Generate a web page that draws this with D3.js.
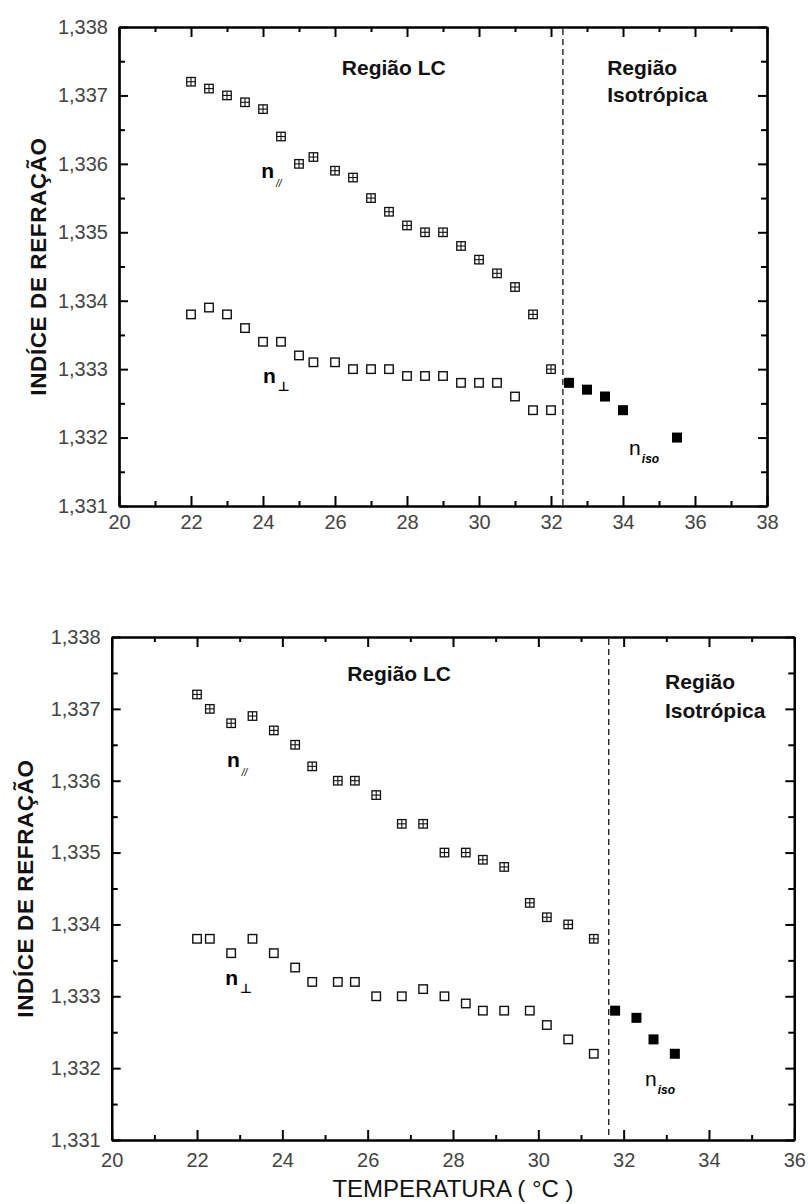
<!DOCTYPE html>
<html>
<head>
<meta charset="utf-8">
<script src="https://cdn.jsdelivr.net/npm/d3@7"></script>
<style>
  html, body { margin: 0; padding: 0; background: #fff; }
  svg { display: block; }
  text { font-family: "Liberation Sans", Arial, sans-serif; }
</style>
</head>
<body>
<svg id="chart" width="808" height="1204"></svg>
<script>
// ---------- DATA ----------
// Top panel
const topParT  = [22,22.5,23,23.5,24,24.5,25,25.4,26,26.5,27,27.5,28,28.5,29,29.5,30,30.5,31,31.5,32];
const topParN  = [1.3372,1.3371,1.3370,1.3369,1.3368,1.3364,1.3360,1.3361,1.3359,1.3358,1.3355,1.3353,1.3351,1.3350,1.3350,1.3348,1.3346,1.3344,1.3342,1.3338,1.3330];
const topPerpT = [22,22.5,23,23.5,24,24.5,25,25.4,26,26.5,27,27.5,28,28.5,29,29.5,30,30.5,31,31.5,32];
const topPerpN = [1.3338,1.3339,1.3338,1.3336,1.3334,1.3334,1.3332,1.3331,1.3331,1.3330,1.3330,1.3330,1.3329,1.3329,1.3329,1.3328,1.3328,1.3328,1.3326,1.3324,1.3324];
const topIsoT  = [32.5,33,33.5,34,35.5];
const topIsoN  = [1.3328,1.3327,1.3326,1.3324,1.3320];
const topTransition = 32.33;

// Bottom panel
const botParT  = [22,22.3,22.8,23.3,23.8,24.3,24.7,25.3,25.7,26.2,26.8,27.3,27.8,28.3,28.7,29.2,29.8,30.2,30.7,31.3];
const botParN  = [1.3372,1.3370,1.3368,1.3369,1.3367,1.3365,1.3362,1.3360,1.3360,1.3358,1.3354,1.3354,1.3350,1.3350,1.3349,1.3348,1.3343,1.3341,1.3340,1.3338];
const botPerpT = [22,22.3,22.8,23.3,23.8,24.3,24.7,25.3,25.7,26.2,26.8,27.3,27.8,28.3,28.7,29.2,29.8,30.2,30.7,31.3];
const botPerpN = [1.3338,1.3338,1.3336,1.3338,1.3336,1.3334,1.3332,1.3332,1.3332,1.3330,1.3330,1.3331,1.3330,1.3329,1.3328,1.3328,1.3328,1.3326,1.3324,1.3322];
const botIsoT  = [31.8,32.3,32.7,33.2];
const botIsoN  = [1.3328,1.3327,1.3324,1.3322];
const botTransition = 31.65;

// Axis ticks
const yTicks = [1.331,1.332,1.333,1.334,1.335,1.336,1.337,1.338];
const topXTicks = [20,22,24,26,28,30,32,34,36,38];
const botXTicks = [20,22,24,26,28,30,32,34,36];

const yTitle = "INDÍCE DE REFRAÇÃO";
const xTitle = "TEMPERATURA ( °C )";
const lcLabel = "Região LC";
const isoLabel1 = "Região";
const isoLabel2 = "Isotrópica";

// ---------- DRAW ----------
const svg = d3.select("#chart");
const loc = d3.formatLocale({decimal: ",", thousands: ".", grouping: [3], currency: ["", ""]});
const fmtY = loc.format(".3f");

function zip(a, b) { return a.map((v, i) => ({x: v, y: b[i]})); }

function panel(cfg) {
  const x = d3.scaleLinear().domain(cfg.xDomain).range([cfg.left, cfg.right]);
  const y = d3.scaleLinear().domain([1.331, 1.338]).range([cfg.bottom, cfg.top]);
  const g = svg.append("g");

  const minorX = d3.range(cfg.xDomain[0], cfg.xDomain[1] + 0.001, 1).filter(v => v % 2 !== 0);
  const minorY = d3.range(1.3315, 1.338, 0.001);

  function styleAxis(sel) {
    sel.select(".domain").attr("stroke", "#000").attr("stroke-width", 2.2);
    sel.selectAll(".tick line").attr("stroke", "#000").attr("stroke-width", 2);
    sel.selectAll(".tick text").attr("fill", "#444").style("font-size", "20px")
      .style("font-family", "'Liberation Sans', Arial, sans-serif");
  }

  // bottom x
  g.append("g").attr("transform", `translate(0,${cfg.bottom})`)
    .call(d3.axisBottom(x).tickValues(cfg.xTicks).tickSizeInner(-10).tickSizeOuter(0).tickPadding(cfg.xPad).tickFormat(d3.format("d")))
    .call(styleAxis);
  g.append("g").attr("transform", `translate(0,${cfg.bottom})`)
    .call(d3.axisBottom(x).tickValues(minorX).tickSizeInner(-5).tickSizeOuter(0).tickFormat(""))
    .call(styleAxis);
  // top x
  g.append("g").attr("transform", `translate(0,${cfg.top})`)
    .call(d3.axisTop(x).tickValues(cfg.xTicks).tickSizeInner(-10).tickSizeOuter(0).tickFormat(""))
    .call(styleAxis);
  g.append("g").attr("transform", `translate(0,${cfg.top})`)
    .call(d3.axisTop(x).tickValues(minorX).tickSizeInner(-5).tickSizeOuter(0).tickFormat(""))
    .call(styleAxis);
  // left y
  g.append("g").attr("transform", `translate(${cfg.left},0)`)
    .call(d3.axisLeft(y).tickValues(yTicks).tickSizeInner(-9).tickSizeOuter(0).tickPadding(11).tickFormat(fmtY))
    .call(styleAxis);
  g.append("g").attr("transform", `translate(${cfg.left},0)`)
    .call(d3.axisLeft(y).tickValues(minorY).tickSizeInner(-6).tickSizeOuter(0).tickFormat(""))
    .call(styleAxis);
  // right y
  g.append("g").attr("transform", `translate(${cfg.right},0)`)
    .call(d3.axisRight(y).tickValues(yTicks).tickSizeInner(-9).tickSizeOuter(0).tickFormat(""))
    .call(styleAxis);
  g.append("g").attr("transform", `translate(${cfg.right},0)`)
    .call(d3.axisRight(y).tickValues(minorY).tickSizeInner(-6).tickSizeOuter(0).tickFormat(""))
    .call(styleAxis);

  // transition line
  g.append("line")
    .attr("x1", x(cfg.transition)).attr("x2", x(cfg.transition))
    .attr("y1", y(1.338) + 2).attr("y2", y(1.331) - 1)
    .attr("stroke", "#222").attr("stroke-width", 1.4).attr("stroke-dasharray", "6,4");

  // n// crossed squares
  const s = 8.5;
  const par = g.append("g").selectAll("g").data(zip(cfg.parT, cfg.parN)).join("g")
    .attr("transform", d => `translate(${x(d.x)},${y(d.y)})`);
  par.append("rect").attr("x", -s/2).attr("y", -s/2).attr("width", s).attr("height", s)
    .attr("fill", "#fff").attr("stroke", "#111").attr("stroke-width", 1.3);
  par.append("line").attr("x1", 0).attr("x2", 0).attr("y1", -s/2).attr("y2", s/2).attr("stroke", "#111").attr("stroke-width", 1.1);
  par.append("line").attr("x1", -s/2).attr("x2", s/2).attr("y1", 0).attr("y2", 0).attr("stroke", "#111").attr("stroke-width", 1.1);

  // n⊥ open squares
  g.append("g").selectAll("rect").data(zip(cfg.perpT, cfg.perpN)).join("rect")
    .attr("x", d => x(d.x) - s/2).attr("y", d => y(d.y) - s/2)
    .attr("width", s).attr("height", s)
    .attr("fill", "#fff").attr("stroke", "#111").attr("stroke-width", 1.4);

  // n_iso filled squares
  const f = 10;
  g.append("g").selectAll("rect").data(zip(cfg.isoT, cfg.isoN)).join("rect")
    .attr("x", d => x(d.x) - f/2).attr("y", d => y(d.y) - f/2)
    .attr("width", f).attr("height", f).attr("fill", "#000");

  // region labels
  const lbl = (tx, ty, text) => g.append("text").attr("x", x(tx)).attr("y", y(ty))
    .attr("font-size", 21).attr("font-weight", "bold").attr("fill", "#111").text(text);
  lbl(cfg.lc[0], cfg.lc[1], lcLabel);
  lbl(cfg.iso1[0], cfg.iso1[1], isoLabel1);
  lbl(cfg.iso2[0], cfg.iso2[1], isoLabel2);

  // series labels
  function nlab(pos, sub, subStyle, nBold) {
    const t = g.append("text").attr("x", x(pos[0])).attr("y", y(pos[1])).attr("fill", "#000");
    t.append("tspan").attr("font-size", 21).attr("font-weight", nBold ? "bold" : "normal").text("n");
    t.append("tspan").attr("dx", subStyle.dx).attr("dy", subStyle.dy)
      .attr("font-size", subStyle.size).attr("font-style", subStyle.italic ? "italic" : "normal")
      .attr("font-weight", subStyle.bold ? "bold" : "normal")
      .attr("fill", "#000")
      .style("font-family", subStyle.family || null)
      .text(sub);
  }
  nlab(cfg.nPar, "//", {dx: 2, dy: 9, size: 10, italic: true, bold: false}, true);
  nlab(cfg.nPerp, "⊥", {dx: 2, dy: 8, size: 13, italic: false, bold: true, family: "'DejaVu Sans', sans-serif"}, true);
  nlab(cfg.nIso, "iso", {dx: 1, dy: 8, size: 12, italic: true, bold: true}, false);

  // y title
  g.append("text")
    .attr("transform", `translate(${cfg.yTitleX},${(cfg.top + cfg.bottom) / 2}) rotate(-90)`)
    .attr("text-anchor", "middle").attr("font-size", 22.5).attr("font-weight", "bold")
    .attr("letter-spacing", 0.6).attr("fill", "#111").text(yTitle);

  return {x, y, g};
}

panel({
  xDomain: [20, 38], left: 119, right: 767, top: 27, bottom: 506,
  xTicks: topXTicks, xPad: 9, transition: topTransition,
  parT: topParT, parN: topParN, perpT: topPerpT, perpN: topPerpN, isoT: topIsoT, isoN: topIsoN,
  lc: [26.19, 1.3373], iso1: [33.56, 1.3373], iso2: [33.56, 1.33691],
  nPar: [23.95, 1.33579], nPerp: [24.0, 1.3328], nIso: [34.17, 1.33175],
  yTitleX: 46
});

const bot = panel({
  xDomain: [20, 36], left: 111.7, right: 794.3, top: 637, bottom: 1140,
  xTicks: botXTicks, xPad: 13, transition: botTransition,
  parT: botParT, parN: botParN, perpT: botPerpT, perpN: botPerpN, isoT: botIsoT, isoN: botIsoN,
  lc: [25.52, 1.33739], iso1: [32.97, 1.33728], iso2: [32.97, 1.33687],
  nPar: [22.7, 1.33619], nPerp: [22.66, 1.33316], nIso: [32.5, 1.33175],
  yTitleX: 33
});

svg.append("text")
  .attr("x", (bot.x.range()[0] + bot.x.range()[1]) / 2).attr("y", 1197)
  .attr("text-anchor", "middle").attr("font-size", 24).attr("fill", "#111")
  .text(xTitle);
</script>
</body>
</html>
